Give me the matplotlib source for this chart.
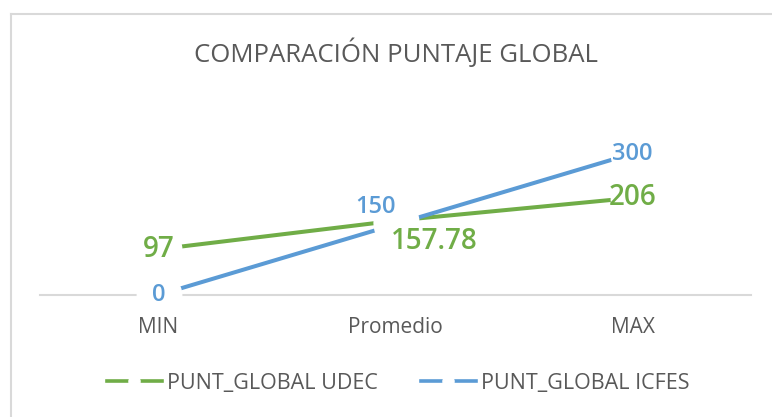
import matplotlib
matplotlib.use('Agg')
import matplotlib.pyplot as plt
from matplotlib.lines import Line2D

categories = ['MIN', 'Promedio', 'MAX']
udec = [97, 157.78, 206]
icfes = [0, 150, 300]
udec_labels = ['97', '157.78', '206']
icfes_labels = ['0', '150', '300']
series_names = ['PUNT_GLOBAL UDEC', 'PUNT_GLOBAL ICFES']
title = 'COMPARACIÓN PUNTAJE GLOBAL'

GREEN = '#70AD47'
BLUE = '#5B9BD5'
GRAY = '#595959'
LIGHT = '#D9D9D9'
FONT = ['Open Sans', 'DejaVu Sans']
plt.rcParams['font.family'] = FONT

W, H = 772, 417
fig = plt.figure(figsize=(W / 100, H / 100), dpi=100)


def fx(px):
    return px / W


def fy(py):
    return 1 - py / H


# outer chart border (left + top visible)
fig.add_artist(Line2D([fx(11), fx(11)], [fy(14), 0], color=LIGHT, lw=1.5, transform=fig.transFigure))
fig.add_artist(Line2D([fx(11), 1], [fy(14), fy(14)], color=LIGHT, lw=1.5, transform=fig.transFigure))

ax = fig.add_axes([fx(40), fy(295), fx(751) - fx(40), (295 - 130) / H])
x = list(range(len(categories)))
ax.set_xlim(-0.5, len(categories) - 0.5)
ax.set_ylim(0, 350)

ax.plot(x, udec, color=GREEN, lw=2.9, solid_capstyle='butt', zorder=2)
ax.plot(x, icfes, color=BLUE, lw=2.9, solid_capstyle='butt', zorder=2)
for vals in (udec, icfes):
    ax.plot(x, vals, ls='none', marker='o', ms=32, mfc='white', mec='white',
            zorder=3, clip_on=False)

udec_off = [(0, 0), (28, -15), (0, 0)]
icfes_off = [(0, 0), (-14.4, 12.6), (0, 0)]
for xi, v, lab, off in zip(x, udec, udec_labels, udec_off):
    ax.annotate(lab, (xi, v), xytext=off, textcoords='offset points', ha='center', va='center',
                color=GREEN, fontsize=20, fontweight='semibold', zorder=5, annotation_clip=False)
for xi, v, lab, off in zip(x, icfes, icfes_labels, icfes_off):
    ax.annotate(lab, (xi, v), xytext=off, textcoords='offset points', ha='center', va='center',
                color=BLUE, fontsize=17, fontweight='semibold', zorder=5, annotation_clip=False)

for s in ['top', 'right', 'left']:
    ax.spines[s].set_visible(False)
ax.spines['bottom'].set_color(LIGHT)
ax.spines['bottom'].set_linewidth(1.5)
ax.set_yticks([])
ax.set_xticks(x, categories)
ax.tick_params(axis='x', length=0, pad=16, labelsize=15, labelcolor=GRAY)
ax.xaxis.set_zorder(4)

fig.text(fx(396), fy(53.5), title, ha='center', va='center', fontsize=18.5, color=GRAY)

handles = [
    Line2D([0], [0], color=GREEN, lw=2.6, marker='o', ms=8, mfc='white', mec='white'),
    Line2D([0], [0], color=BLUE, lw=2.6, marker='o', ms=8, mfc='white', mec='white'),
]
fig.legend(handles, series_names, loc='center', bbox_to_anchor=(fx(398), fy(383)), ncol=2,
           frameon=False, fontsize=15.5, labelcolor=GRAY, handlelength=2.55,
           handletextpad=0.23, columnspacing=2.0, numpoints=1)

fig.savefig('out.png', dpi=100)
